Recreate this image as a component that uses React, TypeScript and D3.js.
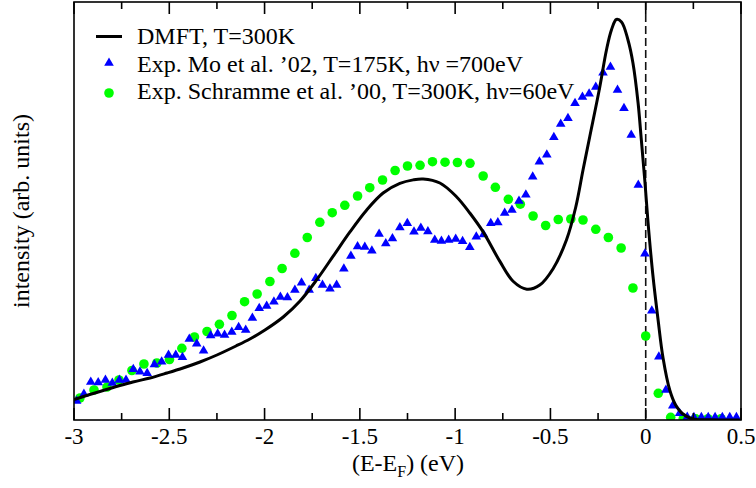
import React from "react";
import * as d3 from "d3";

// DMFT curve (energy eV, intensity arb. units)
const dmftX = [-3.0, -2.864, -2.691, -2.601, -2.512, -2.428, -2.339, -2.25, -2.15, -2.077, -1.998, -1.902, -1.815, -1.727, -1.64, -1.552, -1.465, -1.378, -1.29, -1.22, -1.168, -1.08, -0.993, -0.923, -0.853, -0.766, -0.696, -0.624, -0.556, -0.486, -0.416, -0.367, -0.329, -0.294, -0.241, -0.206, -0.18, -0.154, -0.127, -0.093, -0.067, -0.04, -0.023, -0.005, 0.012, 0.037, 0.065, 0.091, 0.126, 0.157, 0.192, 0.247, 0.336, 0.493];
const dmftY = [4.9, 6.82, 9.09, 10.05, 11.24, 12.44, 13.88, 15.55, 17.7, 19.38, 21.53, 24.64, 28.4, 33.5, 39.2, 45.0, 50.2, 54.3, 56.6, 57.45, 57.66, 56.7, 53.42, 49.52, 45.0, 38.0, 33.2, 31.3, 32.3, 36.2, 43.06, 50.96, 59.81, 67.7, 79.67, 88.52, 93.3, 95.81, 95.22, 90.91, 85.41, 75.84, 66.99, 57.42, 47.37, 34.93, 23.92, 14.83, 7.18, 3.59, 1.56, 0.24, 0.05, 0.0];

// Mo et al. '02 (triangles)
const moX = [-2.986, -2.948, -2.912, -2.873, -2.835, -2.799, -2.762, -2.727, -2.689, -2.654, -2.616, -2.578, -2.54, -2.504, -2.466, -2.431, -2.395, -2.356, -2.32, -2.283, -2.246, -2.21, -2.172, -2.136, -2.099, -2.064, -2.028, -1.989, -1.951, -1.917, -1.88, -1.841, -1.806, -1.766, -1.731, -1.696, -1.657, -1.622, -1.584, -1.547, -1.512, -1.474, -1.437, -1.399, -1.364, -1.329, -1.29, -1.251, -1.216, -1.18, -1.143, -1.107, -1.072, -1.034, -0.997, -0.961, -0.923, -0.889, -0.851, -0.813, -0.776, -0.74, -0.702, -0.665, -0.629, -0.593, -0.558, -0.519, -0.482, -0.446, -0.408, -0.371, -0.332, -0.297, -0.262, -0.224, -0.185, -0.148, -0.114, -0.076, -0.039, -0.004, 0.032, 0.069, 0.106, 0.142, 0.178, 0.218, 0.253, 0.292, 0.328, 0.364, 0.402, 0.441, 0.476];
const moY = [4.55, 6.22, 9.09, 8.97, 9.57, 8.85, 9.57, 9.57, 12.15, 11.56, 11.17, 13.28, 13.95, 15.55, 15.55, 15.0, 19.38, 18.25, 16.58, 20.22, 20.62, 20.33, 21.05, 22.18, 21.53, 24.4, 26.72, 27.27, 28.3, 29.43, 29.31, 31.1, 32.85, 31.1, 33.9, 32.3, 31.41, 32.3, 36.17, 39.23, 41.51, 41.39, 40.5, 44.5, 42.22, 43.42, 46.05, 47.06, 45.05, 45.93, 45.1, 43.06, 42.82, 43.06, 43.3, 42.75, 41.34, 43.85, 44.38, 47.06, 47.25, 49.52, 50.24, 52.39, 53.9, 58.21, 61.79, 63.47, 67.63, 70.81, 72.18, 75.77, 77.27, 78.06, 79.67, 83.06, 84.45, 78.95, 74.57, 68.18, 56.22, 39.78, 26.15, 15.14, 7.18, 3.4, 1.6, 0.72, 0.65, 0.65, 0.65, 0.65, 0.65, 0.65, 0.65];

// Schramme et al. '00 (circles)
const schX = [-2.969, -2.895, -2.827, -2.764, -2.696, -2.633, -2.565, -2.499, -2.434, -2.368, -2.302, -2.237, -2.171, -2.105, -2.039, -1.972, -1.908, -1.841, -1.776, -1.71, -1.645, -1.579, -1.512, -1.448, -1.381, -1.315, -1.25, -1.184, -1.119, -1.053, -0.988, -0.922, -0.853, -0.789, -0.721, -0.658, -0.591, -0.525, -0.459, -0.393, -0.329, -0.262, -0.196, -0.129, -0.067, 0.0, 0.066, 0.131, 0.197, 0.262, 0.327, 0.395];
const schY = [5.26, 7.18, 7.89, 9.57, 11.84, 13.4, 13.64, 14.47, 17.15, 19.86, 21.17, 22.89, 25.0, 28.3, 30.14, 33.13, 36.24, 39.88, 43.66, 47.3, 49.59, 51.36, 53.59, 55.57, 57.42, 59.69, 60.77, 60.93, 61.79, 61.67, 61.6, 61.41, 58.37, 55.67, 52.8, 51.63, 48.8, 46.53, 47.97, 48.09, 47.85, 45.62, 43.66, 41.15, 31.58, 20.1, 6.39, 0.65, 0.3, 0.3, 0.3, 0.3];

const xMajorTicks = [-3, -2.5, -2, -1.5, -1, -0.5, 0, 0.5];
const xTickLabels = ["-3", "-2.5", "-2", "-1.5", "-1", "-0.5", "0", "0.5"];
const xMinorTicks = [-2.75, -2.25, -1.75, -1.25, -0.75, -0.25, 0.25];

const legendLabels = [
  "DMFT, T=300K",
  "Exp. Mo et al. \u201902, T=175K, h\u03bd =700eV",
  "Exp. Schramme et al. \u201900, T=300K, h\u03bd=60eV",
];

const W = 756;
const H = 488;
const L = 74, R = 741, T = 2, B = 420;
const FONT = "'Liberation Serif', 'Times New Roman', serif";
const BLUE = "#0000ff";
const GREEN = "#00ff00";

export default function App() {
  const x = d3.scaleLinear().domain([-3, 0.5]).range([L, R]);
  const y = d3.scaleLinear().domain([0, 100]).range([B, T]);

  const line = d3
    .line<number>()
    .x((_, i) => x(dmftX[i]))
    .y((d) => y(d))
    .curve(d3.curveCatmullRom.alpha(0.5));

  const tri = d3.symbol().type(d3.symbolTriangle).size(40)()!;

  return (
    <svg
      width={W}
      height={H}
      style={{ position: "absolute", left: 0, top: 0, background: "#fff" }}
      fontFamily={FONT}
    >
      <rect x={0} y={0} width={W} height={H} fill="#fff" />
      <defs>
        <clipPath id="plotclip">
          <rect x={L} y={T} width={R - L} height={B - T} />
        </clipPath>
      </defs>

      {/* zero line */}
      <line
        x1={x(0)}
        x2={x(0)}
        y1={T}
        y2={B}
        stroke="#111"
        strokeWidth={1.6}
        strokeDasharray="8,4"
      />

      <g clipPath="url(#plotclip)">
        {schX.map((v, i) => (
          <circle key={"c" + i} cx={x(v)} cy={y(schY[i])} r={4.8} fill={GREEN} />
        ))}
        {moX.map((v, i) => (
          <path
            key={"t" + i}
            d={tri}
            transform={`translate(${x(v)},${y(moY[i])})`}
            fill={BLUE}
          />
        ))}
        <path d={line(dmftY) || ""} fill="none" stroke="#000" strokeWidth={3} strokeLinejoin="round" />
      </g>

      {/* frame */}
      <rect x={L} y={T} width={R - L} height={B - T} fill="none" stroke="#000" strokeWidth={1.6} />

      {/* ticks */}
      {xMajorTicks.map((t, i) => (
        <g key={"M" + i}>
          <line x1={x(t)} x2={x(t)} y1={B} y2={B - 12} stroke="#000" strokeWidth={1.6} />
          <line x1={x(t)} x2={x(t)} y1={T} y2={T + 12} stroke="#000" strokeWidth={1.6} />
          <text x={x(t)} y={444} textAnchor="middle" fontSize={23} fill="#000">
            {xTickLabels[i]}
          </text>
        </g>
      ))}
      {xMinorTicks.map((t, i) => (
        <g key={"m" + i}>
          <line x1={x(t)} x2={x(t)} y1={B} y2={B - 7} stroke="#000" strokeWidth={1.6} />
          <line x1={x(t)} x2={x(t)} y1={T} y2={T + 7} stroke="#000" strokeWidth={1.6} />
        </g>
      ))}

      {/* axis labels */}
      <text x={408} y={471} textAnchor="middle" fontSize={24} fill="#000">
        (E-E<tspan fontSize={16} dy={6}>F</tspan>
        <tspan dy={-6}>) (eV)</tspan>
      </text>
      <text
        transform={`translate(29,${(T + B) / 2}) rotate(-90)`}
        textAnchor="middle"
        fontSize={24}
        fill="#000"
      >
        intensity (arb. units)
      </text>

      {/* legend */}
      <line x1={96} x2={122} y1={36.5} y2={36.5} stroke="#000" strokeWidth={3} />
      <path d={tri} transform="translate(109,63)" fill={BLUE} />
      <circle cx={109} cy={93} r={4.8} fill={GREEN} />
      {legendLabels.map((s, i) => (
        <text key={"l" + i} x={137} y={44 + i * 27.5} fontSize={24} fill="#000">
          {s}
        </text>
      ))}
    </svg>
  );
}
